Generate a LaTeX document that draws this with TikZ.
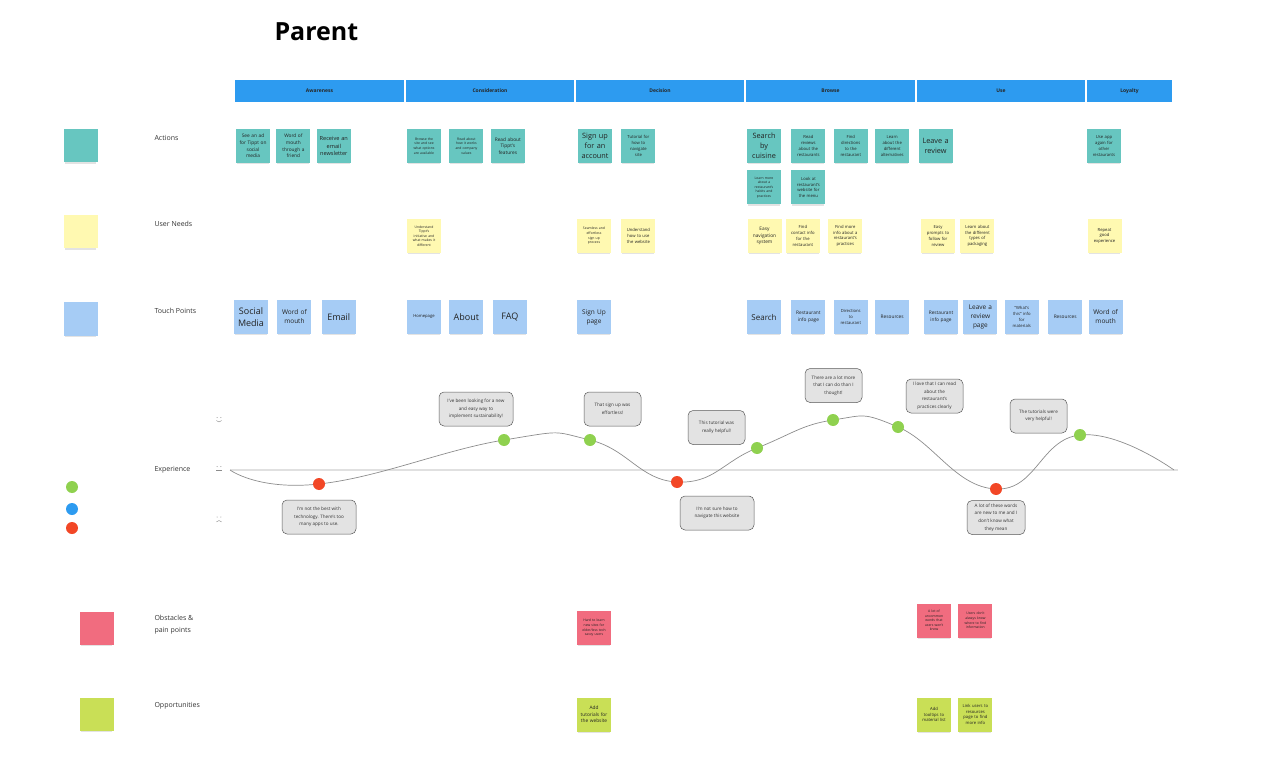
\documentclass[tikz,border=0pt]{standalone}
\usepackage{fontspec}
\setmainfont{Open Sans}
\usetikzlibrary{positioning, shadows}
\definecolor{phase}{HTML}{2D9BF0}
\definecolor{teal}{HTML}{67C6C0}
\definecolor{lemon}{HTML}{FFF9B1}
\definecolor{sky}{HTML}{A6CCF5}
\definecolor{rose}{HTML}{F16C7F}
\definecolor{lime}{HTML}{C9DF56}
\definecolor{good}{HTML}{8FD14F}
\definecolor{bad}{HTML}{F24726}
\definecolor{ink}{HTML}{222222}

\begin{document}
\begin{tikzpicture}[x=1pt, y=-1pt,
    note/.style={rectangle, minimum width=34pt, minimum height=34pt, inner sep=2pt,
                 text width=30pt, align=center, text=ink,
                 drop shadow={opacity=0.22, shadow xshift=0pt, shadow yshift=-2.5pt, shadow scale=0.94}},
    act/.style={note, fill=teal},
    need/.style={note, fill=lemon},
    touch/.style={note, fill=sky},
    pain/.style={note, fill=rose},
    opp/.style={note, fill=lime},
    txa/.style={font=\fontsize{3.4}{4.6}\selectfont},
    txb/.style={font=\fontsize{4.2}{5.8}\selectfont},
    txc/.style={font=\fontsize{4.8}{6.6}\selectfont},
    txd/.style={font=\fontsize{5.6}{7.6}\selectfont},
    txe/.style={font=\fontsize{6.5}{9}\selectfont},
    txf/.style={font=\fontsize{7.3}{10}\selectfont},
    txg/.style={font=\fontsize{9}{11.5}\selectfont},
    phasebar/.style={rectangle, fill=phase, minimum height=22pt, inner sep=0pt,
                     text=black!85, font=\bfseries\fontsize{5}{6}\selectfont},
    rowlabel/.style={anchor=west, text=black!80, align=left, font=\fontsize{7}{12}\selectfont},
    bubble/.style={rectangle, rounded corners=5pt, draw=black!65, fill=black!11, line width=0.5pt,
                   minimum height=34pt, inner sep=1.5pt, align=center, text=black!80,
                   font=\fontsize{4.6}{7.6}\selectfont},
    dot/.style={circle, minimum size=12pt, inner sep=0pt},
    face/.style={draw=black!45, line width=0.4pt}
  ]
  \useasboundingbox (0,0) rectangle (1276,783);

  % title and phases
  \node[anchor=west, font=\bfseries\fontsize{25}{30}\selectfont] (title) at (271,32) {Parent};
  \node[phasebar, minimum width=169pt] (awr) at (319.5,91) {Awareness};
  \node[phasebar, minimum width=168pt, right=1.6pt of awr] (con) {Consideration};
  \node[phasebar, minimum width=168pt, right=1.6pt of con] (dec) {Decision};
  \node[phasebar, minimum width=169pt, right=1.6pt of dec] (brw) {Browse};
  \node[phasebar, minimum width=168pt, right=1.6pt of brw] (use) {Use};
  \node[phasebar, minimum width=85pt, right=1.6pt of use] (loy) {Loyalty};

  % row legend
  \node[act, minimum width=33pt, minimum height=33pt] (keyact) at (80.5,146) {};
  \node[need, minimum width=33pt, minimum height=33pt] (keyneed) at (80.5,232) {};
  \node[touch, minimum width=33pt, minimum height=33pt] (keytouch) at (80.5,319) {};
  \node[pain, minimum width=33pt, minimum height=33pt] (keypain) at (96.5,628) {};
  \node[opp, minimum width=33pt, minimum height=33pt] (keyopp) at (96.5,714) {};
  \node[rowlabel] (lblact) at (151,138) {Actions};
  \node[rowlabel] (lblneed) at (151,224) {User Needs};
  \node[rowlabel] (lbltouch) at (151,311) {Touch Points};
  \node[rowlabel] (lblexp) at (151,470) {Experience};
  \node[rowlabel] (lblpain) at (151,625) {Obstacles \&\\pain points};
  \node[rowlabel] (lblopp) at (151,706) {Opportunities};
  \node[dot, fill=good] (keygood) at (72,487) {};
  \node[dot, fill=phase] (keymid) at (72,509) {};
  \node[dot, fill=bad] (keybad) at (72,528) {};

  % actions
  \node[act, txc] (a1) at (253,146) {See an ad\\for Tippt on\\social\\media};
  \node[act, txc, right=6pt of a1] (a2) {Word of\\mouth\\through a\\friend};
  \node[act, txd, right=6pt of a2] (a3) {Receive an\\email\\newsletter};
  \node[act, txa] (a4) at (424,146) {Browse the\\site and see\\what options\\are available};
  \node[act, txa] (a5) [right=8pt of a4] {Read about\\how it works\\and company\\values};
  \node[act, txc, right=7pt of a5] (a6) {Read about\\Tippt's\\features};
  \node[act, txf] (a7) at (595,146) {Sign up\\for an\\account};
  \node[act, txb, right=9pt of a7] (a8) {Tutorial for\\how to\\navigate\\site};
  \node[act, txf] (a9) at (764,146) {Search\\by\\cuisine};
  \node[act, txb, right=10pt of a9] (a10) {Read\\reviews\\about the\\restaurants};
  \node[act, txb, right=8pt of a10] (a11) {Find\\directions\\to the\\restaurant};
  \node[act, txb, right=7pt of a11] (a12) {Learn\\about the\\different\\alternatives};
  \node[act, txf, right=9pt of a12] (a13) {Leave a\\review};
  \node[act, txa, below=7pt of a9] (a14) {Learn more\\about a\\restaurant's\\habits and\\practices};
  \node[act, txb, right=10pt of a14] (a15) {Look at\\restaurant's\\website for\\the menu};
  \node[act, txb] (a16) at (1104,146) {Use app\\again for\\other\\restaurants};

  % user needs
  \node[need, txa] (n1) at (424,236) {Understand\\Tippt's\\initiative and\\what makes it\\different};
  \node[need, txa] (n2) at (594,236) {Seamless and\\effortless\\sign up\\process};
  \node[need, txb, right=10pt of n2] (n3) {Understand\\how to use\\the website};
  \node[need, txc] (n4) at (764.5,236) {Easy\\navigation\\system};
  \node[need, txb, right=4pt of n4] (n5) {Find\\contact info\\for the\\restaurant};
  \node[need, txb, right=8pt of n5] (n6) {Find more\\info about a\\restaurant's\\practices};
  \node[need, txb] (n7) at (938,236) {Easy\\prompts to\\follow for\\review};
  \node[need, txb, right=5pt of n7] (n8) {Learn about\\the different\\types of\\packaging};
  \node[need, txb] (n9) at (1104.5,236) {Repeat\\good\\experience};

  % touch points
  \node[touch, txg] (t1) at (251,317) {Social\\Media};
  \node[touch, txe, right=9pt of t1] (t2) {Word of\\mouth};
  \node[touch, txg, right=10pt of t2] (t3) {Email};
  \node[touch, txb] (t4) at (424,317) {Homepage};
  \node[touch, txg, right=8pt of t4] (t5) {About};
  \node[touch, txg, right=9pt of t5] (t6) {FAQ};
  \node[touch, txe] (t7) at (594,317) {Sign Up\\page};
  \node[touch, font=\fontsize{8}{10}\selectfont] (t8) at (764,317) {Search};
  \node[touch, txc, right=10pt of t8] (t9) {Restaurant\\info page};
  \node[touch, txb, right=8pt of t9] (t10) {Directions\\to\\restaurant};
  \node[touch, txc, right=7pt of t10] (t11) {Resources};
  \node[touch, txc] (t12) at (941,317) {Restaurant\\info page};
  \node[touch, txe, right=5pt of t12] (t13) {Leave a\\review\\page};
  \node[touch, txb, right=7pt of t13] (t14) {"What's\\this" info\\for\\materials};
  \node[touch, txc, right=9pt of t14] (t15) {Resources};
  \node[touch, txe, right=6pt of t15] (t16) {Word of\\mouth};

  % experience curve
  \draw[black!12, line width=1.2pt] (230,470) -- (1178,470);
  \coordinate (k1) at (319,484);
  \coordinate (k2) at (504,440);
  \coordinate (k3) at (590,440);
  \coordinate (k4) at (677,482);
  \coordinate (k5) at (757,448);
  \coordinate (k6) at (833,420);
  \coordinate (k7) at (898,427);
  \coordinate (k8) at (996,489);
  \coordinate (k9) at (1080,435);
  \draw[black!45, line width=0.7pt] plot[smooth, tension=0.8] coordinates
    {(230,470) (k1) (k2) (k3) (k4) (k5) (k6) (k7) (k8) (k9) (1174,470)};
  \node[dot, fill=bad] (e1) at (k1) {};
  \node[dot, fill=good] (e2) at (k2) {};
  \node[dot, fill=good] (e3) at (k3) {};
  \node[dot, fill=bad] (e4) at (k4) {};
  \node[dot, fill=good] (e5) at (k5) {};
  \node[dot, fill=good] (e6) at (k6) {};
  \node[dot, fill=good] (e7) at (k7) {};
  \node[dot, fill=bad] (e8) at (k8) {};
  \node[dot, fill=good] (e9) at (k9) {};

  % faces
  \fill[black!45] (217.2,417.5) circle (0.5) (220.8,417.5) circle (0.5);
  \draw[face] (216.3,420.5) .. controls (217.8,422.5) and (220.2,422.5) .. (221.7,420.5);
  \fill[black!45] (217.2,466.5) circle (0.5) (220.8,466.5) circle (0.5);
  \draw[face] (216.3,470.5) -- (221.7,470.5);
  \fill[black!45] (217.2,517) circle (0.5) (220.8,517) circle (0.5);
  \draw[face] (216.3,522) .. controls (217.8,520) and (220.2,520) .. (221.7,522);

  % quotes
  \node[bubble, minimum width=74pt] (q1) at (319,517) {I'm not the best with\\technology. There's too\\many apps to use.};
  \node[bubble, minimum width=74pt] (q2) at (476,409) {I've been looking for a new\\and easy way to\\implement sustainability!};
  \node[bubble, minimum width=57pt] (q3) at (612.5,409) {That sign up was\\effortless!};
  \node[bubble, minimum width=57pt] (q4) at (716.5,427.5) {This tutorial was\\really helpful!};
  \node[bubble, minimum width=74pt] (q5) at (717,513) {I'm not sure how to\\navigate this website};
  \node[bubble, minimum width=57pt] (q6) at (833.5,385.5) {There are a lot more\\that I can do than I\\thought!};
  \node[bubble, minimum width=57pt] (q7) at (934.5,396) {I love that I can read\\about the\\restaurant's\\practices clearly};
  \node[bubble, minimum width=57pt] (q8) at (1038.5,416) {The tutorials were\\very helpful!};
  \node[bubble, minimum width=58pt] (q9) at (996,517.5) {A lot of these words\\are new to me and I\\don't know what\\they mean};

  % obstacles and opportunities
  \node[pain, txa] (o1) at (594,628) {Hard to learn\\new sites for\\older/less tech\\savvy users};
  \node[pain, txa] (o2) at (934,620.5) {A lot of\\uncommon\\words that\\users won't\\know};
  \node[pain, txa, right=7pt of o2] (o3) {Users don't\\always know\\where to find\\information};
  \node[opp, txc] (p1) at (594,714.5) {Add\\tutorials for\\the website};
  \node[opp, txb] (p2) at (934,714.5) {Add\\tooltips to\\material list};
  \node[opp, txb, right=7pt of p2] (p3) {Link users to\\resources\\page to find\\more info};
\end{tikzpicture}
\end{document}
